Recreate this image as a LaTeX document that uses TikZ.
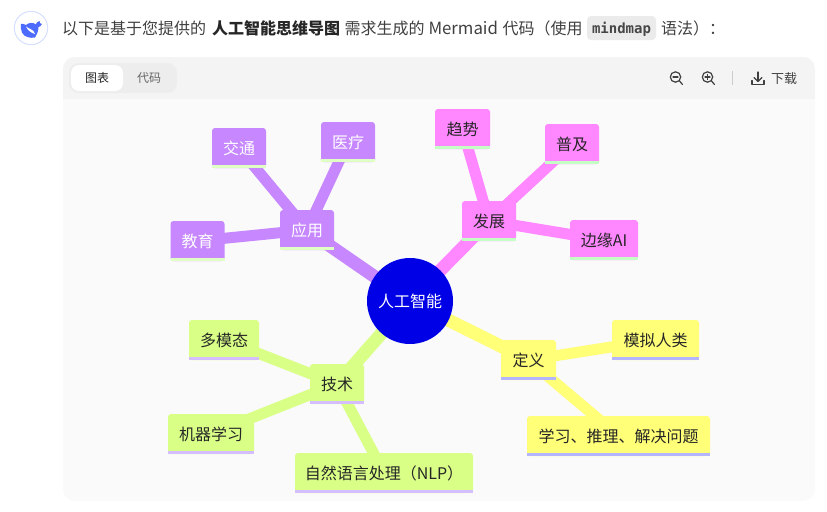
\documentclass[tikz,border=0pt]{standalone}
\usepackage{fontspec}
\setmainfont{Noto Sans CJK SC}
\newfontfamily\codefont{DejaVu Sans Mono}
\pgfdeclarelayer{panel}
\pgfdeclarelayer{edges}
\pgfdeclarelayer{strips}
\pgfsetlayers{panel,edges,main,strips}
\definecolor{txt}{HTML}{404040}
\definecolor{strong}{HTML}{262626}
\definecolor{hdr}{HTML}{F4F4F4}
\definecolor{bodybg}{HTML}{FAFAFA}
\definecolor{tabbg}{HTML}{EDEDED}
\definecolor{chip}{HTML}{EBEBEB}
\definecolor{whale}{HTML}{4D6BFE}
\definecolor{ringc}{HTML}{D5E0FF}
\definecolor{rootc}{HTML}{0000E6}
\definecolor{purp}{HTML}{C687FF}
\definecolor{purps}{HTML}{E0FFC4}
\definecolor{pink}{HTML}{FF87FF}
\definecolor{pinks}{HTML}{C4FFC4}
\definecolor{lime}{HTML}{D9FF87}
\definecolor{limes}{HTML}{D4BEFF}
\definecolor{yell}{HTML}{FFFF78}
\definecolor{yells}{HTML}{B4B4FF}
\tikzset{
  x=0.75pt,y=-0.75pt,
  px/.style={font=\fontsize{12}{14}\selectfont},
  mapbox/.style n args={3}{fill=#1,text=#3,rounded corners=2.25pt,inner sep=0pt,outer sep=0pt,
    minimum height=30pt,px,
    append after command={\pgfextra{\begin{pgfonlayer}{strips}\fill[#2,sharp corners] ([yshift=2.25pt]\tikzlastnode.south west) rectangle (\tikzlastnode.south east);\end{pgfonlayer}}}},
  purpbox/.style={mapbox={purp}{purps}{white}},
  pinkbox/.style={mapbox={pink}{pinks}{black!85}},
  limebox/.style={mapbox={lime}{limes}{black!85}},
  yellbox/.style={mapbox={yell}{yells}{black!85}},
  w/.style={minimum width=#1*0.75pt},
  branch/.style={line width=9.75pt,draw=#1},
  leaf/.style={line width=8.25pt,draw=#1},
  plain/.style={anchor=base west,inner sep=0pt,outer sep=0pt,text=txt,px},
  icon/.style={draw=txt,line width=0.9pt,line cap=round,line join=round},
}
\begin{document}
\begin{tikzpicture}
\useasboundingbox (0,0) rectangle (827,511);
\begin{pgfonlayer}{panel}
\fill[white] (0,0) rectangle (827,511);
\fill[bodybg,rounded corners=9pt] (63,57) rectangle (815,501);
\begin{scope}
\clip[rounded corners=9pt] (63,57) rectangle (815,501);
\fill[hdr] (63,57) rectangle (815,99);
\end{scope}
\end{pgfonlayer}
% logo
\node[circle,draw=ringc,line width=0.75pt,fill=white,minimum size=25pt,inner sep=0pt] (logo) at (31,28) {};
\fill[whale] (21,24) .. controls (22.5,23.5) and (24,24) .. (26,25) .. controls (29,22.5) and (33,22) .. (36,24.5)
  .. controls (36,23) and (37,21.5) .. (39.5,21) .. controls (39,23) and (41,24) .. (42,24)
  .. controls (41,26) and (39.5,27) .. (38.5,27)
  .. controls (38.5,31) and (37,34) .. (35,37.5) .. controls (30,38.5) and (24,37) .. (22,32.5) .. controls (21,30) and (20.5,27) .. (21,24) -- cycle;
\fill[white] (26,26.5) .. controls (27.5,30) and (31,33) .. (35,34) .. controls (34.5,32) and (33,30) .. (30.5,29)
  .. controls (29,28.5) and (27.5,27.5) .. (26,26.5) -- cycle;
% intro line
\node[plain] (t1) at (62,34) {以下是基于您提供的};
\node[plain,text=strong,font=\fontsize{12}{14}\selectfont\bfseries] (t2) at (212,34) {人工智能思维导图};
\node[plain] (t3) at (344.5,34) {需求生成的};
\node[plain,font=\fontsize{12.6}{14}\selectfont] (t3b) at (428.5,34) {Mermaid};
\node[plain] (t3c) at (502.5,34) {代码（使用};
\fill[chip,rounded corners=3pt] (587,16) rectangle (656,40);
\node[plain,text=strong!85,font=\fontsize{10.5}{12}\selectfont\codefont\bfseries] (t4) at (592,33) {mindmap};
\node[plain] (t5) at (661,34) {语法）：};
% tabs
\fill[tabbg,rounded corners=7.5pt] (69,63) rectangle (177,93);
\fill[white,rounded corners=6pt] (71,65) rectangle (123,91);
\node[plain,font=\fontsize{9}{11}\selectfont,text=strong] (tabA) at (85,82) {图表};
\node[plain,font=\fontsize{9}{11}\selectfont,text=txt!80] (tabB) at (137,82) {代码};
% toolbar icons
\draw[icon] (675.5,77) circle (5.2);
\draw[icon] (679.5,81) -- (682.5,84.5);
\draw[icon] (673,77) -- (678,77);
\draw[icon] (707.5,77) circle (5.2);
\draw[icon] (711.5,81) -- (714.5,84.5);
\draw[icon] (705,77) -- (710,77);
\draw[icon] (707.5,74.5) -- (707.5,79.5);
\draw[draw=black!20,line width=0.75pt] (732,71) -- (732,85);
\draw[icon] (758,72) -- (758,81);
\draw[icon] (754,77.5) -- (758,81.5) -- (762,77.5);
\draw[icon] (752,80.5) -- (752,84.5) -- (764,84.5) -- (764,80.5);
\node[plain,font=\fontsize{9.75}{11}\selectfont] (dl) at (771,83) {下载};
% map nodes
\node[circle,fill=rootc,text=white,minimum size=64.5pt,inner sep=0pt,px] (root) at (410,301) {人工智能};
\node[purpbox,w=54] (yy) at (307,230) {应用};
\node[purpbox,w=54] (jt) at (239,148) {交通};
\node[purpbox,w=54] (yl) at (348,142) {医疗};
\node[purpbox,w=54] (jy) at (197.5,241) {教育};
\node[pinkbox,w=54] (fz) at (489,221) {发展};
\node[pinkbox,w=55] (qs) at (462.5,129) {趋势};
\node[pinkbox,w=54] (pj) at (572,144) {普及};
\node[pinkbox,w=68] (by) at (604,240) {边缘AI};
\node[limebox,w=54] (js) at (337,384) {技术};
\node[limebox,w=70] (dm) at (224,340) {多模态};
\node[limebox,w=86] (jq) at (211,434) {机器学习};
\node[limebox,w=178] (zr) at (384,473) {自然语言处理（NLP）};
\node[yellbox,w=55] (dy) at (528.5,360) {定义};
\node[yellbox,w=87] (mn) at (655.5,340) {模拟人类};
\node[yellbox,w=183] (xx) at (618.5,436) {学习、推理、解决问题};
% connectors
\begin{pgfonlayer}{edges}
\draw[branch=purp] (root.center) -- (yy.center);
\draw[leaf=purp] (yy.center) -- (jt.center);
\draw[leaf=purp] (yy.center) -- (yl.center);
\draw[leaf=purp] (yy.center) -- (jy.center);
\draw[branch=pink] (root.center) -- (fz.center);
\draw[leaf=pink] (fz.center) -- (qs.center);
\draw[leaf=pink] (fz.center) -- (pj.center);
\draw[leaf=pink] (fz.center) -- (by.center);
\draw[branch=lime] (root.center) -- (js.center);
\draw[leaf=lime] (js.center) -- (dm.center);
\draw[leaf=lime] (js.center) -- (jq.center);
\draw[leaf=lime] (js.center) -- (zr.center);
\draw[branch=yell] (root.center) -- (dy.center);
\draw[leaf=yell] (dy.center) -- (mn.center);
\draw[leaf=yell] (dy.center) -- (xx.center);
\end{pgfonlayer}
\end{tikzpicture}
\end{document}
